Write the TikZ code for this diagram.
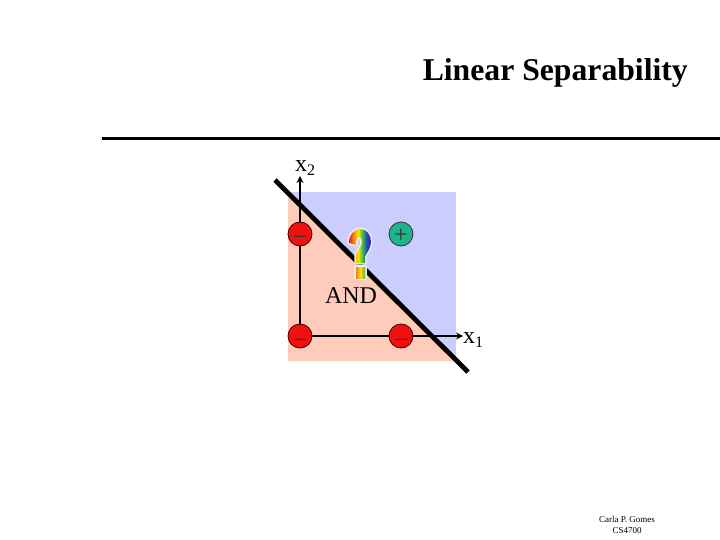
\documentclass[tikz,border=0pt]{standalone}
\usepackage{fontspec}
\setmainfont{Liberation Serif}
\usetikzlibrary{arrows.meta}
\pgfdeclarehorizontalshading{rainbowq}{100bp}{rgb(0bp)=(0.9,0.1,0.2);rgb(25bp)=(0.9,0.1,0.2);rgb(37bp)=(1,0.6,0);rgb(46bp)=(0.95,0.9,0.1);rgb(55bp)=(0.3,0.75,0.2);rgb(65bp)=(0.1,0.3,0.8);rgb(75bp)=(0.25,0.1,0.65);rgb(100bp)=(0.25,0.1,0.65)}
\pgfdeclarehorizontalshading{stemq}{100bp}{rgb(0bp)=(0.95,0.5,0.1);rgb(25bp)=(0.95,0.5,0.1);rgb(50bp)=(0.95,0.9,0.1);rgb(75bp)=(0.3,0.7,0.2);rgb(100bp)=(0.3,0.7,0.2)}
\definecolor{salmonbg}{HTML}{FFCCBB}
\definecolor{lavbg}{HTML}{CCCCFF}
\definecolor{plusgreen}{HTML}{1DB48C}
\definecolor{minusred}{HTML}{F01010}
\definecolor{halo}{HTML}{F0EEE6}
\tikzset{
  x=1pt,y=-1pt,
  dotnode/.style={circle,draw=black!75!red,line width=0.8pt,minimum size=24pt,inner sep=0pt,font=\fontsize{24}{24}\selectfont,text=black!80},
  negdot/.style={dotnode,fill=minusred},
  posdot/.style={dotnode,fill=plusgreen,draw=black!80},
  axisline/.style={line width=1.5pt,-{Stealth[length=7pt,width=7pt]}},
  sepline/.style={line width=4.8pt},
  rulebar/.style={line width=3pt},
  lab/.style={font=\fontsize{24}{24}\selectfont,inner sep=0pt},
  foot/.style={font=\fontsize{9}{9}\selectfont,inner sep=0pt},
  qout/.style={draw=halo,line width=3.2pt,line join=round}
}
\newcommand{\dotmark}[1]{\raisebox{-9pt}[0pt][0pt]{#1}}
\begin{document}
\begin{tikzpicture}
\useasboundingbox (0,0) rectangle (720,540);
\fill[white] (0,0) rectangle (720,540);
\node[anchor=base east,inner sep=0pt,font=\fontsize{31.7}{32}\selectfont\bfseries] (title) at (688,81) {Linear Separability};
\coordinate (barL) at (102,138.5);
\coordinate (barR) at (720,138.5);
\draw[rulebar] (barL) -- (barR);
\fill[lavbg] (288,192) rectangle (456,361);
\fill[salmonbg] (288,192) -- (456,361) -- (288,361) -- cycle;
\coordinate (origin) at (300,336);
\coordinate (xend) at (463,336);
\coordinate (yend) at (300,176);
\draw[axisline] (origin) -- (xend);
\draw[axisline] (origin) -- (yend);
\coordinate (sepA) at (275,180);
\coordinate (sepB) at (468,372);
\draw[sepline] (sepA) -- (sepB);
\node[negdot] (a) at (300,234) {\dotmark{–}};
\node[posdot] (b) at (401,234) {\dotmark{+}};
\node[negdot] (c) at (300,336) {\dotmark{–}};
\node[negdot] (d) at (401,336) {\dotmark{–}};
\node[lab,anchor=base west] (x2) at (295,172) {x\raisebox{-4pt}{\fontsize{16}{16}\selectfont 2}};
\node[lab,anchor=base west] (x1) at (463,343) {x\raisebox{-4pt}{\fontsize{16}{16}\selectfont 1}};
\node[lab,anchor=base] (and) at (351,303) {AND};
\path[qout] (349,243) .. controls (349,234) and (355,229) .. (360,229) .. controls (367,229) and (371,235) .. (371,242) .. controls (371,249) and (366,253) .. (365,257) -- (365,263) -- (356,263) -- (356,255) .. controls (357,250) and (362,247) .. (362,242) .. controls (362,239) and (361,237) .. (359,237) .. controls (357,237) and (356,240) .. (356,245) -- cycle;
\shade[shading=rainbowq] (349,243) .. controls (349,234) and (355,229) .. (360,229) .. controls (367,229) and (371,235) .. (371,242) .. controls (371,249) and (366,253) .. (365,257) -- (365,263) -- (356,263) -- (356,255) .. controls (357,250) and (362,247) .. (362,242) .. controls (362,239) and (361,237) .. (359,237) .. controls (357,237) and (356,240) .. (356,245) -- cycle;
\path[qout] (356,267) rectangle (365,278);
\shade[shading=stemq] (356,267) rectangle (365,278);
\node[foot,anchor=base] (f1) at (627,522) {Carla P. Gomes};
\node[foot,anchor=base] (f2) at (627,533) {CS4700};
\end{tikzpicture}
\end{document}
